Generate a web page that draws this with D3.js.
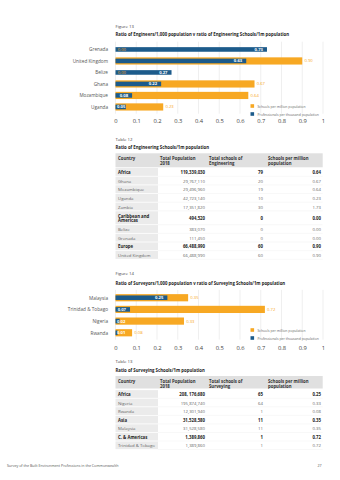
<!DOCTYPE html>
<html><head><meta charset="utf-8">
<script src="https://cdn.jsdelivr.net/npm/d3@7/dist/d3.min.js"></script>
<style>
html,body{margin:0;padding:0;background:#fff;}
svg text{font-family:"Open Sans","Noto Sans",sans-serif;}
</style></head>
<body><svg id="c" width="340" height="480"></svg>
<script>
// ---------- Data ----------
const fig13Countries = ["Grenada","United Kingdom","Belize","Ghana","Mozambique","Uganda"];
const fig13Professionals = [0.73,0.63,0.27,0.22,0.08,0.05];
const fig13Schools = [0.00,0.90,0.00,0.67,0.64,0.23];

const fig14Countries = ["Malaysia","Trinidad & Tobago","Nigeria","Rwanda"];
const fig14Professionals = [0.25,0.07,0.02,0.01];
const fig14Schools = [0.35,0.72,0.33,0.08];

const axisTicks = [0,0.1,0.2,0.3,0.4,0.5,0.6,0.7,0.8,0.9,1];
const legendLabels = ["Schools per million population","Professionals per thousand population"];

const t12Header = [["Country"],["Total Population","2018"],["Total schools of","Engineering"],["Schools per million","population"]];
const t12Country = ["Africa","Ghana","Mozambique","Uganda","Zambia","Caribbean and Americas","Belize","Grenada","Europe","United Kingdom"];
const t12Population = ["119,339,030","29,767,110","29,496,960","42,723,140","17,351,820","494,520","383,070","111,450","66,488,990","66,488,990"];
const t12Schools = ["79","20","19","10","30","0","0","0","60","60"];
const t12PerMillion = ["0.64","0.67","0.64","0.23","1.73","0.00","0.00","0.00","0.90","0.90"];
const t12Group = [true,false,false,false,false,true,false,false,true,false];

const t13Header = [["Country"],["Total Population","2018"],["Total schools of","Surveying"],["Schools per million","population"]];
const t13Country = ["Africa","Nigeria","Rwanda","Asia","Malaysia","C. & Americas","Trinidad & Tobago"];
const t13Population = ["208, 176,680","195,874,740","12,301,940","31,528,580","31,528,580","1,389,860","1,389,860"];
const t13Schools = ["65","64","1","11","11","1","1"];
const t13PerMillion = ["0.25","0.33","0.08","0.35","0.35","0.72","0.72"];
const t13Group = [true,false,false,true,false,true,false];

// ---------- Styles ----------
const BLUE = "#1c5b8b", ORANGE = "#f7a823";
const svg = d3.select("#c");
svg.append("rect").attr("width",340).attr("height",480).attr("fill","#fff");

function text(x,y,s,opt={}){
  return svg.append("text").attr("x",x).attr("y",y).attr("dominant-baseline","central")
    .attr("font-size",opt.size||4.3).attr("font-weight",opt.bold?"bold":"normal")
    .attr("fill",opt.fill||"#444").attr("text-anchor",opt.anchor||"start").text(s);
}

const x = d3.scaleLinear().domain([0,1]).range([115.5,323]);

function barChart(cats, prof, schools, bandRange, axisY, legendY){
  const g = svg.append("g");
  const y = d3.scaleBand().domain(cats).range(bandRange);
  // grid
  g.selectAll("line.grid").data(axisTicks).join("line")
    .attr("x1",d=>x(d)).attr("x2",d=>x(d))
    .attr("y1",bandRange[0]-2).attr("y2",bandRange[1]+1)
    .attr("stroke","#e4e4e4").attr("stroke-width",0.6);
  const rows = cats.map((c,i)=>({c, p:prof[i], s:schools[i]}));
  const cy = d=>y(d.c)+y.bandwidth()/2;
  // orange bars
  g.selectAll("rect.s").data(rows).join("rect")
    .attr("x",x(0)).attr("y",d=>cy(d)-3.6).attr("height",7.2)
    .attr("width",d=>x(d.s)-x(0)).attr("fill",ORANGE);
  // blue bars
  g.selectAll("rect.p").data(rows).join("rect")
    .attr("x",x(0)).attr("y",d=>cy(d)-2.3).attr("height",4.6)
    .attr("width",d=>x(d.p)-x(0)).attr("fill",BLUE);
  // category labels
  rows.forEach(d=>text(108,cy(d),d.c,{size:4.7,anchor:"end",fill:"#555"}));
  // orange labels
  rows.forEach(d=>text(x(d.s)+2.2,cy(d),d3.format(".2f")(d.s),{size:4.2,fill:ORANGE}));
  // blue labels
  rows.forEach(d=>{
    const t = text(0,cy(d),d3.format(".2f")(d.p),{size:4.2,bold:true,fill:"#fff",anchor:"middle"});
    const w = t.node().getComputedTextLength();
    const cx = Math.max(x(0)+1.5+w/2, x(d.p)-4-w/2);
    t.attr("x",cx);
  });
  // axis
  const ax = d3.axisBottom(x).tickValues(axisTicks).tickSize(0).tickPadding(1)
    .tickFormat(d=> d===0?"0":d===1?"1":d3.format(".1f")(d));
  const ag = svg.append("g").attr("transform",`translate(0,${axisY})`).call(ax);
  ag.select(".domain").remove();
  ag.selectAll("text").attr("font-size",5.8).attr("fill","#444")
    .attr("font-family","'Open Sans','Noto Sans',sans-serif");
  // legend
  [ORANGE,BLUE].forEach((c,i)=>{
    const ly = legendY + i*8;
    svg.append("rect").attr("x",250.5).attr("y",ly-1.8).attr("width",3.6).attr("height",3.6).attr("fill",c);
    text(257.5,ly,legendLabels[i],{size:3.4,fill:"#666"});
  });
}

function table(header, country, pop, schools, perM, group, headTop, headH, rowTop, rowH, doubleIdx){
  const colX = [115.5,158,207,265,322.7];
  // header bg
  svg.append("rect").attr("x",colX[0]).attr("y",headTop).attr("width",colX[4]-colX[0]).attr("height",headH).attr("fill","#e0e0e0");
  const hx = [118,160,209,268];
  header.forEach((lines,i)=>{
    if(lines.length===1){ text(hx[i],headTop+4.7,lines[0],{size:4.3,bold:true,fill:"#333"}); }
    else lines.forEach((l,j)=>text(hx[i],headTop+4.7+j*5.1,l,{size:4.3,bold:true,fill:"#333"}));
  });
  let yy = rowTop;
  country.forEach((c,i)=>{
    const h = (i===doubleIdx)? rowH*1.6 : rowH;
    const cyy = yy + h/2;
    svg.append("rect").attr("x",colX[0]).attr("y",yy+0.4).attr("width",colX[1]-colX[0]).attr("height",h-0.8).attr("fill","#ebebeb");
    svg.append("line").attr("x1",colX[1]).attr("x2",colX[4]).attr("y1",yy+h).attr("y2",yy+h).attr("stroke","#f0f0f0").attr("stroke-width",0.5);
    const b = group[i], col = b?"#222":"#666", sz = 4.3;
    if(i===doubleIdx){
      const parts = c.split(" and ");
      text(118,cyy-2.2,parts[0]+" and",{size:sz,bold:b,fill:col});
      text(118,cyy+2.4,parts[1],{size:sz,bold:b,fill:col});
    } else text(118,cyy,c,{size:sz,bold:b,fill:col});
    text(205,cyy,pop[i],{size:sz,bold:b,fill:col,anchor:"end"});
    text(263,cyy,schools[i],{size:sz,bold:b,fill:col,anchor:"end"});
    text(321,cyy,perM[i],{size:sz,bold:b,fill:col,anchor:"end"});
    yy += h;
  });
}

// ---------- Figure 13 ----------
text(115.5,25.7,"Figure 13",{size:4.3,fill:"#444"});
text(115.5,34.3,"Ratio of Engineers/1,000 population v ratio of Engineering Schools/1m population",{size:4.3,bold:true,fill:"#222"});
barChart(fig13Countries,fig13Professionals,fig13Schools,[43.7,112.7],118,106);

// ---------- Table 12 ----------
text(115.5,139.3,"Table 12",{size:4.3,fill:"#444"});
text(115.5,147.3,"Ratio of Engineering Schools/1m population",{size:4.3,bold:true,fill:"#222"});
table(t12Header,t12Country,t12Population,t12Schools,t12PerMillion,t12Group,153.3,14,167.6,8.65,5);

// ---------- Figure 14 ----------
text(115.5,272.7,"Figure 14",{size:4.3,fill:"#444"});
text(115.5,283.3,"Ratio of Surveyors/1,000 population v ratio of Surveying Schools/1m population",{size:4.3,bold:true,fill:"#222"});
barChart(fig14Countries,fig14Professionals,fig14Schools,[291.9,338.6],344.5,330);

// ---------- Table 13 ----------
text(115.5,361,"Table 13",{size:4.3,fill:"#444"});
text(115.5,370,"Ratio of Surveying Schools/1m population",{size:4.3,bold:true,fill:"#222"});
table(t13Header,t13Country,t13Population,t13Schools,t13PerMillion,t13Group,376,12.5,389.7,8.55,-1);

// ---------- Footer ----------
text(7,465,"Survey of the Built Environment Professions in the Commonwealth",{size:3.6,fill:"#555"});
text(321.5,465,"27",{size:3.6,fill:"#555",anchor:"end"});
</script></body></html>
